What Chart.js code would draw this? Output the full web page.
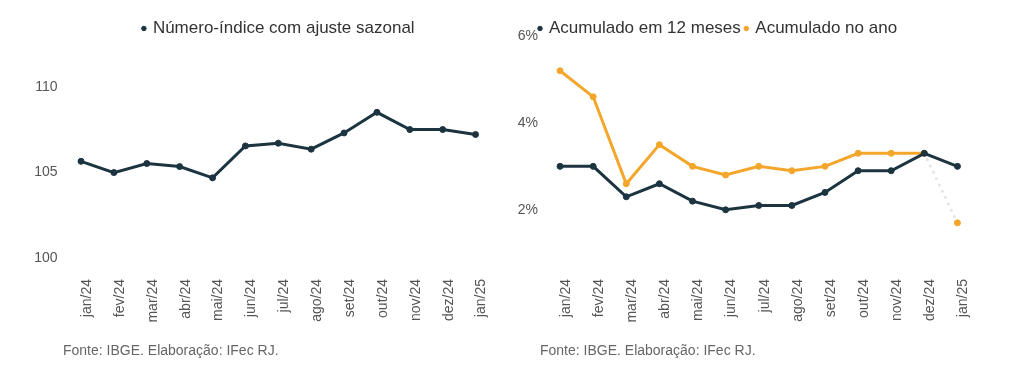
<!DOCTYPE html>
<html>
<head>
<meta charset="utf-8">
<script src="https://cdn.jsdelivr.net/npm/chart.js@4.4.1/dist/chart.umd.min.js"></script>
<style>
  html, body { margin:0; padding:0; background:#fff; }
  #wrap { position:relative; width:1024px; height:376px; overflow:hidden; }
  .panel { position:absolute; top:0; width:512px; height:376px; }
  .src { position:absolute; top:342px; font:14px "Liberation Sans", Arial, sans-serif; color:#666; line-height:16px; white-space:nowrap; }
</style>
</head>
<body>
<div id="wrap">
  <div class="panel" style="left:0"><canvas id="c1" width="512" height="376"></canvas></div>
  <div class="panel" style="left:512px"><canvas id="c2" width="512" height="376"></canvas></div>
  <div class="src" style="left:63px">Fonte: IBGE. Elaboração: IFec RJ.</div>
  <div class="src" style="left:540px">Fonte: IBGE. Elaboração: IFec RJ.</div>
</div>
<script>
const categories = ['jan/24','fev/24','mar/24','abr/24','mai/24','jun/24','jul/24','ago/24','set/24','out/24','nov/24','dez/24','jan/25'];
const indiceSazonal = [105.66, 105.0, 105.53, 105.35, 104.69, 106.56, 106.72, 106.37, 107.32, 108.53, 107.52, 107.52, 107.23];
const acumulado12m = [3.0, 3.0, 2.3, 2.6, 2.2, 2.0, 2.1, 2.1, 2.4, 2.9, 2.9, 3.3, 3.0];
const acumuladoAno = [5.2, 4.6, 2.6, 3.5, 3.0, 2.8, 3.0, 2.9, 3.0, 3.3, 3.3, 3.3, 1.7];
const leftTicks = [100, 105, 110];
const rightTicks = [2, 4, 6];
const seriesNames = ['Número-índice com ajuste sazonal', 'Acumulado em 12 meses', 'Acumulado no ano'];

const DARK = '#1c3440';
const ORANGE = '#f4a62a';
const FONT = '"Liberation Sans", Arial, sans-serif';

const legendTweak = {
  id: 'legendTweak',
  beforeLayout(chart) {
    const lg = chart.legend;
    if (lg && !lg._patched) {
      const f = lg.fit;
      lg.fit = function() { f.call(this); this.height = Math.max(0, this.height - (chart.options.plugins.legendTweak.shrink || 0)); };
      lg._patched = true;
    }
  },
  afterLayout(chart) {
    const lg = chart.legend;
    const dx = chart.options.plugins.legendTweak.dx || 0;
    if (lg) { lg.left += dx; lg.right += dx; }
  }
};

function legendLabels(chart) {
  const items = Chart.defaults.plugins.legend.labels.generateLabels(chart);
  items.forEach(it => { it.lineWidth = 1; it.strokeStyle = it.fillStyle; });
  return items;
}

function makeOptions(cfg) {
  return {
    responsive: false,
    animation: false,
    devicePixelRatio: 1,
    layout: { padding: { left: 0, right: cfg.padRight, top: 15, bottom: 51 } },
    plugins: {
      legendTweak: { shrink: 11, dx: cfg.legendDx },
      tooltip: { enabled: false },
      legend: {
        position: 'top',
        align: cfg.legendAlign,
        labels: {
          usePointStyle: true,
          pointStyle: 'circle',
          boxWidth: 1,
          boxHeight: 3.2,
          padding: 5,
          color: '#333',
          font: { size: 17, family: FONT },
          generateLabels: legendLabels
        }
      }
    },
    scales: {
      x: {
        offset: true,
        grid: { display: false, drawTicks: false },
        border: { display: false },
        afterFit(s) { s.height = 50; },
        ticks: {
          color: '#555', font: { size: 14, family: FONT },
          minRotation: 90, maxRotation: 90, padding: 4, labelOffset: 6, autoSkip: false
        }
      },
      y: {
        min: cfg.min, max: cfg.max,
        grid: { display: false, drawTicks: false },
        border: { display: false },
        afterFit(s) { s.width = cfg.axisWidth; },
        afterBuildTicks(s) { s.ticks = cfg.ticks.map(v => ({ value: v })); },
        ticks: {
          color: '#555', font: { size: 14, family: FONT }, padding: cfg.tickPad,
          callback: cfg.fmt
        }
      }
    }
  };
}

new Chart(document.getElementById('c1'), {
  type: 'line',
  data: {
    labels: categories,
    datasets: [{
      label: seriesNames[0],
      data: indiceSazonal,
      borderColor: DARK, backgroundColor: DARK,
      pointBackgroundColor: DARK, pointBorderColor: DARK,
      borderWidth: 3, pointRadius: 3, pointBorderWidth: 1, tension: 0
    }]
  },
  options: makeOptions({ padRight: 20, axisWidth: 64.6, min: 99, max: 113, ticks: leftTicks, tickPad: 7, legendAlign: 'center', legendDx: 33, fmt: v => String(v) }),
  plugins: [legendTweak]
});

new Chart(document.getElementById('c2'), {
  type: 'line',
  data: {
    labels: categories,
    datasets: [{
      label: seriesNames[1],
      data: acumulado12m,
      borderColor: DARK, backgroundColor: DARK,
      pointBackgroundColor: DARK, pointBorderColor: DARK,
      borderWidth: 3, pointRadius: 3, pointBorderWidth: 1, tension: 0
    }, {
      label: seriesNames[2],
      data: acumuladoAno,
      borderColor: ORANGE, backgroundColor: ORANGE,
      pointBackgroundColor: ORANGE, pointBorderColor: ORANGE,
      borderWidth: 3, pointRadius: 3, pointBorderWidth: 1, tension: 0,
      borderCapStyle: 'round',
      segment: {
        borderColor: c => c.p1DataIndex === categories.length - 1 ? '#e3e5de' : undefined,
        borderDash: c => c.p1DataIndex === categories.length - 1 ? [0, 7] : undefined
      }
    }]
  },
  options: makeOptions({ padRight: 50, axisWidth: 31.5, min: 0.5, max: 6, ticks: rightTicks, tickPad: 5.5, legendAlign: 'start', legendDx: 22.5, fmt: v => v + '%' }),
  plugins: [legendTweak]
});
</script>
</body>
</html>
